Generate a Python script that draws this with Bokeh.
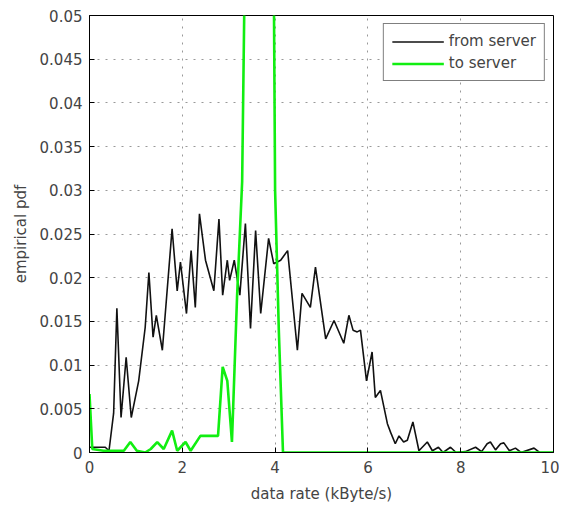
from bokeh.plotting import figure
from bokeh.models import Range1d, FixedTicker, Legend, LegendItem
from bokeh.embed import file_html
from bokeh.resources import INLINE

# ---- data ----
from_server_x = [0.0, 0.13, 0.34, 0.42, 0.52, 0.59, 0.68, 0.79, 0.90, 1.06, 1.20, 1.28, 1.37, 1.44,
                 1.57, 1.78, 1.89, 1.96, 2.09, 2.19, 2.28, 2.37, 2.50, 2.68, 2.79, 2.87, 2.97, 3.02,
                 3.12, 3.24, 3.36, 3.47, 3.58, 3.69, 3.86, 3.97, 4.12, 4.27, 4.48, 4.58, 4.76, 4.87,
                 5.09, 5.27, 5.48, 5.59, 5.68, 5.77, 5.84, 5.97, 6.09, 6.16, 6.27, 6.42, 6.49, 6.59,
                 6.67, 6.77, 6.85, 6.97, 7.10, 7.28, 7.39, 7.52, 7.62, 7.78, 7.90, 8.10, 8.32, 8.45,
                 8.57, 8.64, 8.75, 8.86, 8.93, 9.05, 9.18, 9.30, 9.58, 9.70, 10.0]
from_server_y = [0.0006, 0.0006, 0.0006, 0.0002, 0.0045, 0.0165, 0.0040, 0.0109, 0.0040, 0.0082,
                 0.0143, 0.0206, 0.0132, 0.0157, 0.0117, 0.0256, 0.0185, 0.0218, 0.0159, 0.0231,
                 0.0166, 0.0273, 0.0220, 0.0185, 0.0267, 0.0180, 0.0220, 0.0197, 0.0220, 0.0180,
                 0.0262, 0.0142, 0.0254, 0.0159, 0.0245, 0.0216, 0.0220, 0.0231, 0.0117, 0.0182,
                 0.0166, 0.0212, 0.0130, 0.0151, 0.0125, 0.0157, 0.0140, 0.0138, 0.0140, 0.0082,
                 0.0115, 0.0063, 0.0071, 0.0033, 0.0023, 0.0010, 0.0019, 0.0012, 0.0014, 0.0035,
                 0.0002, 0.0012, 0.0002, 0.0006, 0.0000, 0.0006, 0.0000, 0.0001, 0.0006, 0.0001,
                 0.0010, 0.0012, 0.0003, 0.0010, 0.0011, 0.0002, 0.0005, 0.0000, 0.0005, 0.0000, 0.0]

to_server_x = [0.0, 0.06, 0.30, 0.74, 0.88, 1.02, 1.20, 1.32, 1.46, 1.60, 1.78, 1.89, 2.07, 2.18,
               2.39, 2.77, 2.87, 2.97, 3.07, 3.18, 3.29, 3.45, 3.70, 3.93, 4.00, 4.08, 4.17, 10.0]
to_server_y = [0.0067, 0.0004, 0.0002, 0.0002, 0.0012, 0.0002, 0.0000, 0.0004, 0.0012, 0.0004,
               0.0025, 0.0002, 0.0012, 0.0002, 0.0019, 0.0019, 0.0098, 0.0082, 0.0012, 0.0178,
               0.0310, 0.1000, 0.1100, 0.0900, 0.0300, 0.0140, 0.0000, 0.0]

x_ticks = [0, 2, 4, 6, 8, 10]
x_tick_labels = ["0", "2", "4", "6", "8", "10"]
y_ticks = [0, 0.005, 0.01, 0.015, 0.02, 0.025, 0.03, 0.035, 0.04, 0.045, 0.05]
y_tick_labels = ["0", "0.005", "0.01", "0.015", "0.02", "0.025", "0.03", "0.035", "0.04", "0.045", "0.05"]

FONT = "DejaVu Sans"
TXT = "#444444"

p = figure(width=559, height=505, output_backend="svg", toolbar_location=None,
           x_range=Range1d(0, 10), y_range=Range1d(0, 0.05),
           min_border_left=89, min_border_right=6, min_border_top=15, min_border_bottom=53)
p.background_fill_color = "white"
p.border_fill_color = "white"
p.outline_line_color = "black"
p.outline_line_width = 1

for ax, ticks, labels in ((p.xaxis[0], x_ticks, x_tick_labels), (p.yaxis[0], y_ticks, y_tick_labels)):
    ax.ticker = FixedTicker(ticks=ticks)
    ax.major_label_overrides = {t: l for t, l in zip(ticks, labels)}
    ax.major_tick_in = 5
    ax.major_tick_out = 0
    ax.minor_tick_in = 0
    ax.minor_tick_out = 0
    ax.axis_line_color = "black"
    ax.major_tick_line_color = "black"
    ax.major_label_text_font = FONT
    ax.major_label_text_font_size = "15px"
    ax.major_label_text_color = TXT
    ax.axis_label_text_font = FONT
    ax.axis_label_text_font_size = "15px"
    ax.axis_label_text_font_style = "normal"
    ax.axis_label_text_color = TXT

p.xaxis.axis_label = "data rate (kByte/s)"
p.yaxis.axis_label = "empirical pdf"
p.xaxis.major_label_standoff = 8
p.xaxis.axis_label_standoff = 9
p.yaxis.major_label_standoff = 7
p.yaxis.axis_label_standoff = 7

p.xgrid.ticker = FixedTicker(ticks=x_ticks)
p.ygrid.ticker = FixedTicker(ticks=y_ticks)
for g in (p.xgrid[0], p.ygrid[0]):
    g.grid_line_color = "#999999"
    g.grid_line_dash = "2 6"
    g.grid_line_width = 1

r1 = p.line(from_server_x, from_server_y, line_color="#111111", line_width=1.6)
r2 = p.line(to_server_x, to_server_y, line_color="#11ee11", line_width=2.6)

legend = Legend(items=[LegendItem(label="from server", renderers=[r1]),
                       LegendItem(label="to server", renderers=[r2])],
                location="top_right", border_line_color="black", border_line_width=1,
                label_text_font=FONT, label_text_font_size="15px", label_text_color=TXT,
                glyph_width=52, glyph_height=17, label_height=17, label_standoff=5,
                padding=8, spacing=4, margin=8, background_fill_alpha=1.0)
p.add_layout(legend)

open("out.html", "w").write(file_html(p, INLINE))
